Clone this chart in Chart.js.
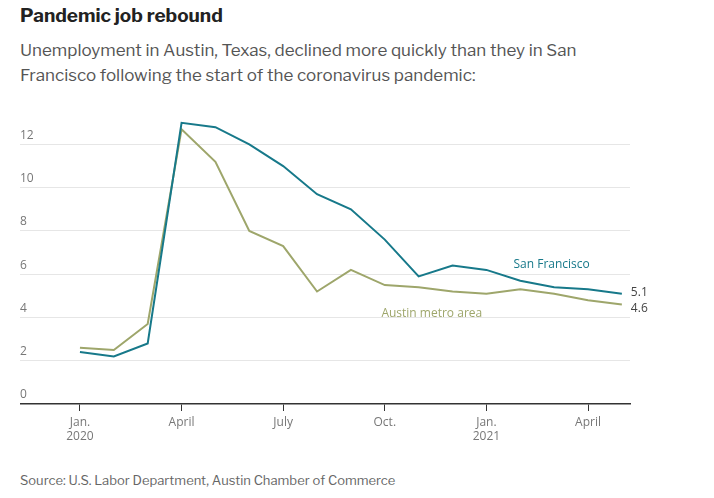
<!DOCTYPE html>
<html><head><meta charset="utf-8">
<script src="https://cdn.jsdelivr.net/npm/chart.js@4"></script>
<style>
body{margin:0;background:#fff;font-family:"Libre Franklin","Open Sans",sans-serif;width:714px;height:498px;position:relative;overflow:hidden}
h1{position:absolute;left:20px;top:4px;margin:0;font-size:19px;font-weight:700;color:#222}
.sub{position:absolute;left:20px;top:38px;width:625px;font-size:17px;line-height:25px;color:#555}
.src{position:absolute;left:20px;top:472px;font-size:13px;color:#666}
#wrap{position:absolute;left:20px;top:94px;width:680px;height:360px}
</style></head><body>
<h1>Pandemic job rebound</h1>
<div class="sub">Unemployment in Austin, Texas, declined more quickly than they in San Francisco following the start of the coronavirus pandemic:</div>
<div id="wrap"><canvas id="c"></canvas></div>
<div class="src">Source: U.S. Labor Department, Austin Chamber of Commerce</div>
<script>
const months = ["Jan. 2020","Feb.","March","April","May","June","July","Aug.","Sept.","Oct.","Nov.","Dec.","Jan. 2021","Feb.","March","April","May"];
const sanFrancisco = [2.4,2.2,2.8,13.0,12.8,12.0,11.0,9.7,9.0,7.6,5.9,6.4,6.2,5.7,5.4,5.3,5.1];
const austin = [2.6,2.5,3.7,12.7,11.2,8.0,7.3,5.2,6.2,5.5,5.4,5.2,5.1,5.3,5.1,4.8,4.6];
const yTicks = [0,2,4,6,8,10,12];
const xTickIdx = [0,3,6,9,12,15];
const xTickLabels = [["Jan.","2020"],"April","July","Oct.",["Jan.","2021"],"April"];

const SF_COLOR = "#17798a", AU_COLOR = "#9ea66b";
const toPts = (arr) => arr.map((v, i) => ({ x: i, y: v }));

const labelPlugin = {
  id: "labels",
  afterDatasetsDraw(chart) {
    const { ctx, scales: { x, y } } = chart;
    const last = months.length - 1;
    ctx.save();
    ctx.font = "12px 'Open Sans', sans-serif";
    ctx.fillStyle = "#444";
    ctx.textBaseline = "middle";
    ctx.fillText(String(sanFrancisco[last]), x.getPixelForValue(last) + 9, y.getPixelForValue(sanFrancisco[last]) - 1);
    ctx.fillText(String(austin[last]), x.getPixelForValue(last) + 9, y.getPixelForValue(austin[last]) + 4);
    ctx.fillStyle = SF_COLOR;
    ctx.fillText("San Francisco", x.getPixelForValue(12.8), y.getPixelForValue(6.45));
    ctx.fillStyle = AU_COLOR;
    ctx.fillText("Austin metro area", x.getPixelForValue(8.9), y.getPixelForValue(4.2));
    ctx.restore();
  }
};

new Chart(document.getElementById("c"), {
  type: "line",
  data: {
    datasets: [
      { label: "San Francisco", data: toPts(sanFrancisco), borderColor: SF_COLOR, borderWidth: 2, pointRadius: 0, tension: 0 },
      { label: "Austin metro area", data: toPts(austin), borderColor: AU_COLOR, borderWidth: 2, pointRadius: 0, tension: 0 }
    ]
  },
  options: {
    responsive: true,
    maintainAspectRatio: false,
    animation: false,
    layout: { padding: { left: 0, right: 70, top: 0, bottom: 0 } },
    plugins: { legend: { display: false }, tooltip: { enabled: false } },
    scales: {
      x: {
        type: "linear", min: -1.77, max: 16.24,
        afterBuildTicks: (s) => { s.ticks = xTickIdx.map((v) => ({ value: v })); },
        afterFit: (s) => { s.height = 50; },
        grid: { drawOnChartArea: false, drawTicks: true, tickLength: 7, color: "#333" },
        border: { color: "#333", width: 1.5 },
        ticks: {
          color: "#777", font: { size: 12, family: "'Open Sans', sans-serif" }, padding: 4, maxRotation: 0,
          callback: (v) => xTickLabels[xTickIdx.indexOf(v)]
        }
      },
      y: {
        min: 0, max: 14,
        afterBuildTicks: (s) => { s.ticks = yTicks.map((v) => ({ value: v })); },
        afterFit: (s) => { s.width = 0; },
        border: { display: false },
        grid: { color: (c) => c.tick && c.tick.value === 0 ? "rgba(0,0,0,0)" : "#e6e6e6", drawTicks: false },
        ticks: { mirror: true, padding: 0, labelOffset: -9, color: "#777", font: { size: 12, family: "'Open Sans', sans-serif" } }
      }
    }
  },
  plugins: [labelPlugin]
});
</script>
</body></html>
